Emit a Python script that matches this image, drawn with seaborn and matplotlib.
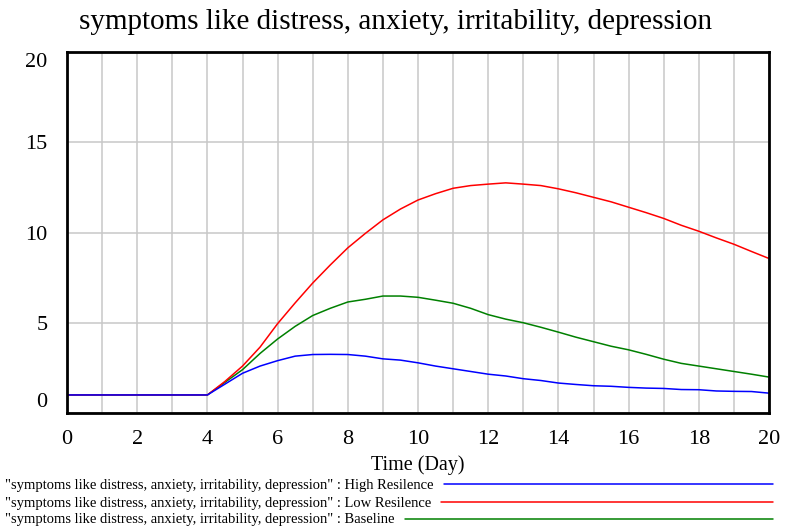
import matplotlib
matplotlib.use("Agg")
import matplotlib.pyplot as plt
import matplotlib.transforms as mtransforms
from matplotlib.lines import Line2D
import seaborn as sns
import pandas as pd
import numpy as np

# data
time = [0, 0.5, 1, 1.5, 2, 2.5, 3, 3.5, 4, 4.5, 5, 5.5, 6, 6.5, 7, 7.5, 8, 8.5, 9, 9.5,
        10, 10.5, 11, 11.5, 12, 12.5, 13, 13.5, 14, 14.5, 15, 15.5, 16, 16.5, 17, 17.5,
        18, 18.5, 19, 19.5, 20]
high_resilence = [1.0] * 8 + [1.0, 1.6, 2.2, 2.6, 2.9, 3.15, 3.24, 3.25, 3.24, 3.15, 3.0, 2.93,
                              2.78, 2.6, 2.45, 2.3, 2.15, 2.05, 1.9, 1.8, 1.66, 1.58, 1.51, 1.48,
                              1.42, 1.38, 1.36, 1.3, 1.29, 1.22, 1.2, 1.19, 1.1]
low_resilence = [1.0] * 8 + [1.0, 1.75, 2.6, 3.65, 4.95, 6.1, 7.2, 8.2, 9.15, 9.95, 10.7, 11.3,
                             11.8, 12.15, 12.45, 12.6, 12.68, 12.75, 12.68, 12.6, 12.42, 12.2,
                             11.95, 11.7, 11.4, 11.1, 10.78, 10.4, 10.07, 9.7, 9.35, 8.95, 8.56]
baseline = [1.0] * 8 + [1.0, 1.7, 2.4, 3.3, 4.1, 4.8, 5.4, 5.8, 6.15, 6.3, 6.48, 6.48,
                        6.41, 6.25, 6.08, 5.8, 5.45, 5.2, 5.0, 4.75, 4.48, 4.2, 3.95, 3.7,
                        3.5, 3.25, 2.98, 2.75, 2.6, 2.45, 2.3, 2.15, 1.99]

var_name = "symptoms like distress, anxiety, irritability, depression"
runs = ["High Resilence", "Low Resilence", "Baseline"]
colors = {"High Resilence": "#0000ff", "Low Resilence": "#ff0000", "Baseline": "#008000"}

df = pd.concat([
    pd.DataFrame({"time": time, "value": vals, "run": name})
    for name, vals in zip(runs, [high_resilence, low_resilence, baseline])
])

sns.set_style("white")
plt.rcParams['font.family'] = ['Liberation Serif', 'DejaVu Serif']
plt.rcParams['text.color'] = 'black'
plt.rcParams['axes.labelcolor'] = 'black'

fig = plt.figure(figsize=(7.85, 5.29), dpi=100)
ax = fig.add_axes([67 / 785, 1 - 413 / 529, (769 - 67) / 785, (413 - 52) / 529])

# draw in reverse so blue sits on top like the original
sns.lineplot(data=df, x="time", y="value", hue="run", hue_order=runs[::-1],
             palette=colors, linewidth=1.1, legend=False, ax=ax)

ax.set_xlim(0, 20)
ax.set_ylim(0, 20)
ax.set_xticks(np.arange(0, 21, 2))
ax.set_xticks(np.arange(0, 21, 1), minor=True)
ax.set_yticks([0, 5, 10, 15, 20])
ax.grid(True, which="both", axis="x", color="#c8c8c8", linewidth=1.1)
ax.grid(True, which="major", axis="y", color="#c8c8c8", linewidth=1.1)
ax.set_axisbelow(True)
ax.tick_params(which="both", length=0, labelsize=16, colors="black")
ax.tick_params(axis="x", pad=12)
ax.tick_params(axis="y", pad=14)
for s in ax.spines.values():
    s.set_color("black")
    s.set_linewidth(2.0)

# vensim puts the end labels a bit inside
ylabels = ax.get_yticklabels()
ylabels[0].set_transform(ylabels[0].get_transform() +
                         mtransforms.ScaledTranslation(0, 13 / 100, fig.dpi_scale_trans))
ylabels[-1].set_transform(ylabels[-1].get_transform() +
                          mtransforms.ScaledTranslation(0, -8 / 100, fig.dpi_scale_trans))

ax.set_xlabel("Time (Day)", fontsize=14.5, labelpad=5, color="black")
ax.set_ylabel("")

fig.text(0.5 + 3 / 785, 1 - 22 / 529, var_name, ha="center", va="center", fontsize=21,
         color="black")

# legend rows
fig.canvas.draw()
renderer = fig.canvas.get_renderer()
rows_y = [485, 503, 520]
for name, yy in zip(runs, rows_y):
    t = fig.text(5 / 785, 1 - yy / 529, f'"{var_name}" : {name}', ha="left", va="center",
                 fontsize=10.5, color="black")
    bb = t.get_window_extent(renderer)
    x0 = bb.x1 + 10
    fig.add_artist(Line2D([x0 / 785, 773 / 785], [1 - (yy - 1) / 529, 1 - (yy - 1) / 529],
                          transform=fig.transFigure, color=colors[name], linewidth=1.1))

fig.savefig("out.png", dpi=100)
